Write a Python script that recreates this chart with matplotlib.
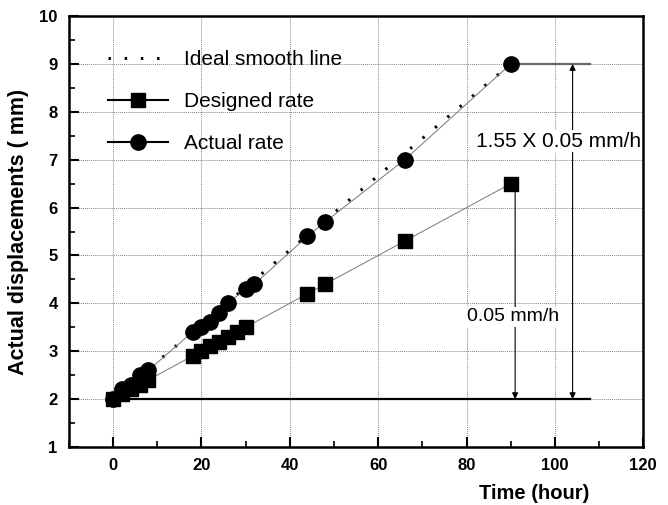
import matplotlib
matplotlib.use("Agg")
import matplotlib.pyplot as plt
from matplotlib.lines import Line2D
from matplotlib.ticker import MultipleLocator
from matplotlib.font_manager import FontProperties

# Data
actual_t = [0, 2, 4, 6, 8, 18, 20, 22, 24, 26, 30, 32, 44, 48, 66, 90]
actual_v = [2.0, 2.2, 2.3, 2.5, 2.6, 3.4, 3.5, 3.6, 3.8, 4.0, 4.3, 4.4, 5.4, 5.7, 7.0, 9.0]
designed_t = [0, 2, 4, 6, 8, 18, 20, 22, 24, 26, 28, 30, 44, 48, 66, 90]
designed_v = [2.0, 2.1, 2.2, 2.3, 2.4, 2.9, 3.0, 3.1, 3.2, 3.3, 3.4, 3.5, 4.2, 4.4, 5.3, 6.5]
ideal_t = [0, 90]
ideal_v = [2.0, 9.0]
base_t = [0, 108]
base_v = [2.0, 2.0]
top_t = [90, 108]
top_v = [9.0, 9.0]
x_ticks = [0, 20, 40, 60, 80, 100, 120]
y_ticks = [1, 2, 3, 4, 5, 6, 7, 8, 9, 10]

fig = plt.figure(figsize=(6.68, 5.05), dpi=100)
ax = fig.add_axes([0.103, 0.115, 0.860, 0.853])

fam = ["Liberation Sans", "DejaVu Sans"]
tickfont = FontProperties(family=fam, weight="bold", size=12)
xlabfont = FontProperties(family=fam, weight="bold", size=14.5)
ylabfont = FontProperties(family=fam, weight="bold", size=15.5)
legfont = FontProperties(family=fam, size=15)
annfont = FontProperties(family=fam, size=14)

ax.grid(True, which="major", color="#888888", linestyle=(0, (1, 1)), linewidth=0.7)
ax.set_axisbelow(True)

ax.plot(base_t, base_v, color="black", lw=1.6, zorder=2)
ax.plot(top_t, top_v, color="#666666", lw=1.6, zorder=2)
ax.plot(ideal_t, ideal_v, color="black", lw=2.2, linestyle=(0, (0.8, 4.5)), zorder=2)
ax.plot(designed_t, designed_v, color="#777777", lw=0.7, marker="s", markersize=9.5,
        markerfacecolor="black", markeredgecolor="black", zorder=3)
ax.plot(actual_t, actual_v, color="#777777", lw=0.7, marker="o", markersize=11,
        markerfacecolor="black", markeredgecolor="black", zorder=3)

# arrows
ax.annotate("", xy=(91, 2.0), xytext=(91, 6.5),
            arrowprops=dict(arrowstyle="<|-|>", color="black", lw=0.8, shrinkA=0, shrinkB=0,
                            mutation_scale=9))
ax.annotate("", xy=(104, 2.0), xytext=(104, 9.0),
            arrowprops=dict(arrowstyle="<|-|>", color="black", lw=0.8, shrinkA=0, shrinkB=0,
                            mutation_scale=9))
ax.text(90.5, 3.72, "0.05 mm/h", ha="center", va="center", fontproperties=annfont,
        bbox=dict(facecolor="white", edgecolor="none", pad=1), zorder=5)
ax.text(100.8, 7.39, "1.55 X 0.05 mm/h", ha="center", va="center",
        fontproperties=FontProperties(family=fam, size=15),
        bbox=dict(facecolor="white", edgecolor="none", pad=1), zorder=5)

ax.set_xlim(-10, 120)
ax.set_ylim(1, 10)
ax.set_xticks(x_ticks)
ax.set_yticks(y_ticks)
ax.xaxis.set_minor_locator(MultipleLocator(10))
ax.yaxis.set_minor_locator(MultipleLocator(0.5))
ax.tick_params(which="major", direction="in", length=7, width=1.5, top=False, right=False, pad=8)
ax.tick_params(which="minor", direction="in", length=4, width=1.2, top=False, right=False)
for lbl in ax.get_xticklabels() + ax.get_yticklabels():
    lbl.set_fontproperties(tickfont)
for s in ax.spines.values():
    s.set_linewidth(1.8)

ax.set_xlabel("Time (hour)", fontproperties=xlabfont)
ax.xaxis.set_label_coords(0.81, -0.085)
ax.set_ylabel("Actual displacements ( mm)", fontproperties=ylabfont)
ax.yaxis.set_label_coords(-0.07, 0.5)

handles = [
    Line2D([], [], color="black", lw=2.2, linestyle=(0, (0.8, 4.5))),
    Line2D([], [], color="black", lw=1.5, marker="s", markersize=10),
    Line2D([], [], color="black", lw=1.5, marker="o", markersize=11),
]
labels = ["Ideal smooth line", "Designed rate", "Actual rate"]
ax.legend(handles, labels, loc="upper left", bbox_to_anchor=(0.035, 0.965), frameon=False,
          prop=legfont, handlelength=2.9, labelspacing=1.1, handletextpad=0.75)

fig.savefig("out.png", dpi=100)
